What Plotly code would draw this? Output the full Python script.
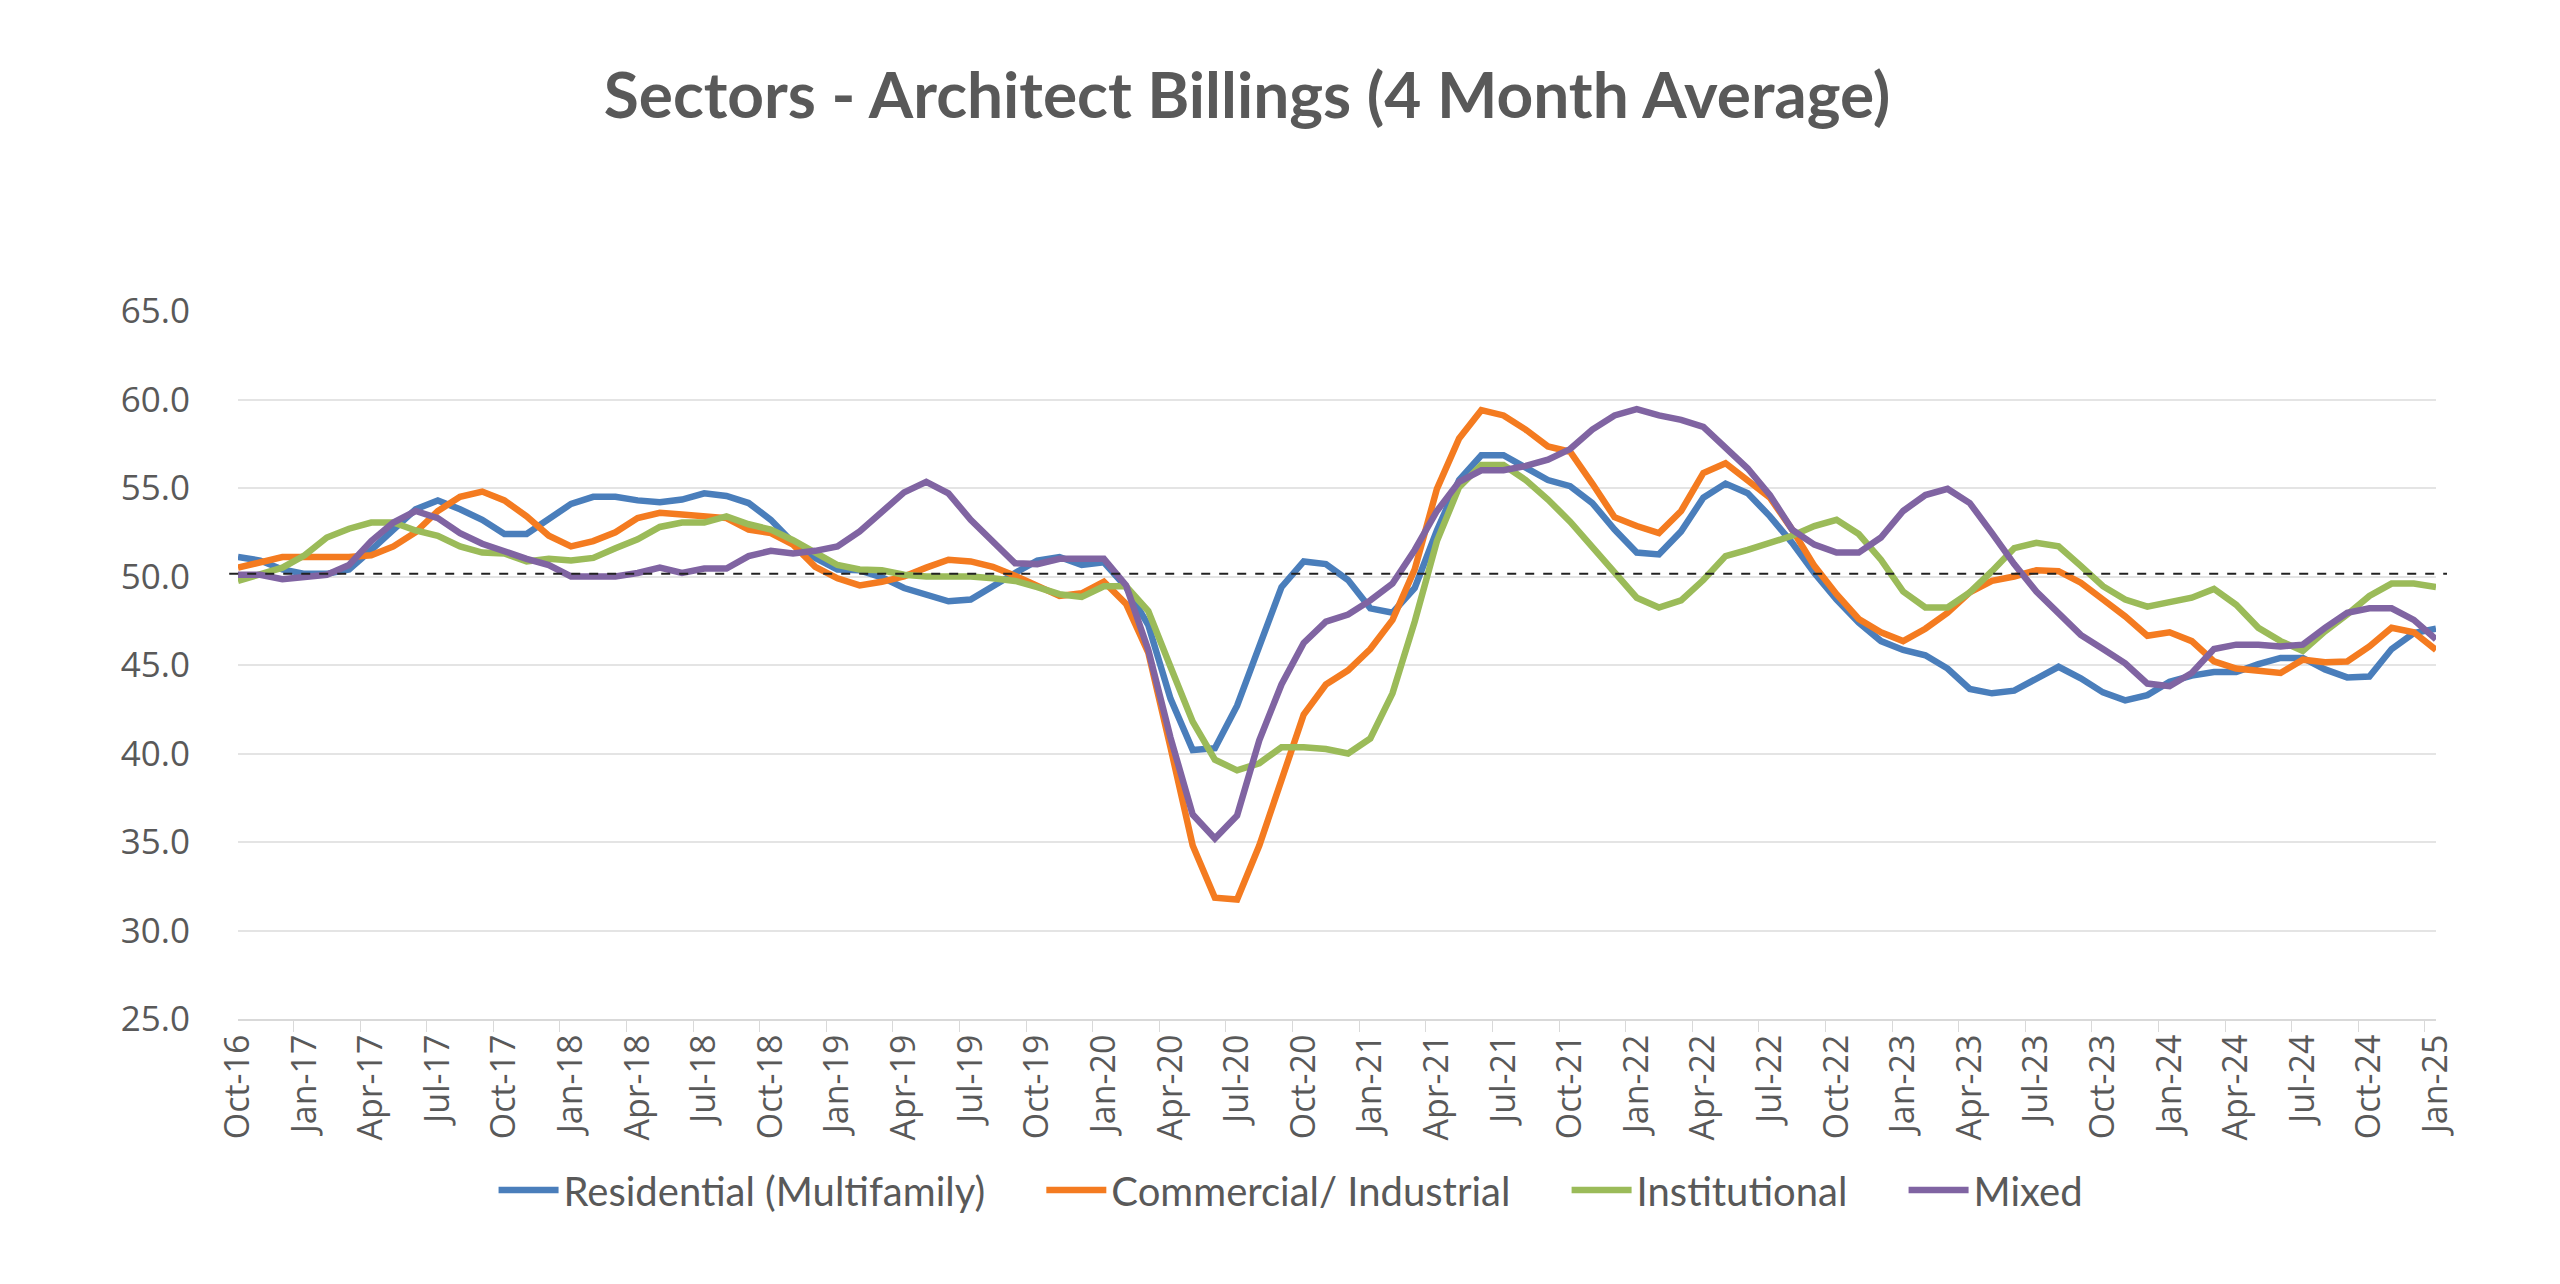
"""Sectors - Architect Billings (4 month average), monthly Oct-16 .. Jan-25."""
import pandas as pd
import plotly.graph_objects as go

_INK = "#595959"
_GRID = "#e4e4e4"

MONTHS = list(pd.date_range("2016-10-01", "2025-01-01", freq="MS").strftime("%b-%y"))

RESIDENTIAL = [
    51.1, 50.9, 50.4, 50.15, 50.15, 50.4, 51.5, 52.7, 53.8, 54.3,
    53.8, 53.2, 52.4, 52.4, 53.2, 54.1, 54.5, 54.5, 54.3, 54.2,
    54.35, 54.7, 54.55, 54.15, 53.2, 51.9, 51.05, 50.4, 50.35, 49.95,
    49.35, 48.95, 48.6, 48.7, 49.5, 50.2, 50.9, 51.1, 50.65, 50.8,
    49.4, 47.25, 43.1, 40.2, 40.3, 42.7, 46.05, 49.4, 50.85, 50.7,
    49.8, 48.2, 47.95, 49.35, 52.6, 55.45, 56.85, 56.85, 56.15, 55.45,
    55.1, 54.15, 52.65, 51.35, 51.25, 52.55, 54.45, 55.25, 54.7, 53.4,
    51.9, 50.2, 48.7, 47.4, 46.35, 45.85, 45.55, 44.8, 43.65, 43.4,
    43.55, 44.25, 44.9, 44.25, 43.45, 43.0, 43.3, 44.05, 44.4, 44.6,
    44.6, 45.05, 45.4, 45.4, 44.75, 44.3, 44.35, 45.9, 46.8, 47.05,
]
COMMERCIAL = [
    50.5, 50.8, 51.1, 51.1, 51.1, 51.1, 51.2, 51.7, 52.5, 53.7,
    54.5, 54.8, 54.3, 53.4, 52.3, 51.7, 52.0, 52.5, 53.3, 53.6,
    53.5, 53.4, 53.3, 52.65, 52.45, 51.8, 50.55, 49.9, 49.5, 49.7,
    50.0, 50.5, 50.95, 50.85, 50.55, 50.05, 49.45, 48.9, 49.05, 49.7,
    48.45, 45.7, 40.35, 34.8, 31.85, 31.75, 34.8, 38.55, 42.2, 43.9,
    44.7, 45.9, 47.55, 50.4, 54.95, 57.8, 59.4, 59.1, 58.3, 57.35,
    57.05, 55.25, 53.35, 52.85, 52.45, 53.7, 55.85, 56.4, 55.45, 54.45,
    52.65, 50.6, 49.0, 47.6, 46.85, 46.35, 47.05, 47.95, 49.1, 49.75,
    50.0, 50.35, 50.3, 49.65, 48.7, 47.75, 46.65, 46.85, 46.35, 45.2,
    44.8, 44.65, 44.55, 45.3, 45.15, 45.2, 46.05, 47.1, 46.85, 45.85,
]
INSTITUTIONAL = [
    49.75, 50.1, 50.5, 51.2, 52.2, 52.7, 53.05, 53.05, 52.6, 52.3,
    51.7, 51.35, 51.3, 50.85, 51.0, 50.9, 51.05, 51.6, 52.1, 52.8,
    53.05, 53.05, 53.4, 52.95, 52.65, 52.05, 51.3, 50.65, 50.4, 50.35,
    50.1, 50.0, 50.0, 50.0, 49.9, 49.75, 49.4, 49.0, 48.85, 49.45,
    49.45, 48.05, 44.9, 41.8, 39.65, 39.05, 39.45, 40.35, 40.35, 40.25,
    40.0, 40.85, 43.4, 47.45, 52.0, 55.05, 56.3, 56.3, 55.45, 54.35,
    53.1, 51.7, 50.2, 48.8, 48.25, 48.65, 49.8, 51.15, 51.5, 51.9,
    52.3, 52.85, 53.2, 52.4, 50.95, 49.15, 48.25, 48.25, 49.1, 50.3,
    51.6, 51.9, 51.7, 50.6, 49.45, 48.7, 48.3, 48.55, 48.8, 49.3,
    48.4, 47.1, 46.35, 45.8, 46.9, 47.85, 48.9, 49.6, 49.6, 49.4,
]
MIXED = [
    50.1, 50.1, 49.85, 49.95, 50.1, 50.65, 52.0, 53.05, 53.7, 53.3,
    52.45, 51.85, 51.4, 51.0, 50.65, 50.0, 50.0, 50.0, 50.2, 50.5,
    50.2, 50.45, 50.45, 51.15, 51.45, 51.3, 51.45, 51.7, 52.55, 53.7,
    54.75, 55.35, 54.7, 53.2, 52.0, 50.75, 50.7, 51.0, 51.0, 51.0,
    49.5, 45.85, 40.9, 36.55, 35.2, 36.5, 40.75, 43.9, 46.25, 47.45,
    47.85, 48.65, 49.6, 51.5, 53.7, 55.35, 56.0, 56.0, 56.25, 56.6,
    57.2, 58.3, 59.1, 59.45, 59.1, 58.85, 58.45, 57.25, 56.1, 54.6,
    52.65, 51.8, 51.35, 51.35, 52.2, 53.7, 54.6, 54.95, 54.15, 52.45,
    50.7, 49.15, 47.95, 46.7, 45.9, 45.1, 43.95, 43.8, 44.55, 45.9,
    46.15, 46.15, 46.05, 46.15, 47.1, 47.95, 48.2, 48.2, 47.55, 46.45,
]

# growth / contraction divide, drawn just above the 50 gridline as in the source
REFERENCE_LEVEL = 50.15

SERIES = [
    ("Residential (Multifamily)", RESIDENTIAL, "#4a7ebb"),
    ("Commercial/ Industrial", COMMERCIAL, "#f47b20"),
    ("Institutional", INSTITUTIONAL, "#9bbb59"),
    ("Mixed", MIXED, "#8064a2"),
]
_PAD = "\u00a0" * 5  # widen the gap between horizontal legend entries

fig = go.Figure()
for i, (name, values, color) in enumerate(SERIES):
    fig.add_trace(
        go.Scatter(
            x=MONTHS,
            y=values,
            name=name if i == len(SERIES) - 1 else name + _PAD,
            mode="lines",
            line={"color": color, "width": 6.5},
        )
    )

fig.add_shape(
    type="line",
    xref="paper",
    x0=-0.004,
    x1=1.005,
    yref="y",
    y0=REFERENCE_LEVEL,
    y1=REFERENCE_LEVEL,
    line={"color": "#222222", "width": 2, "dash": "dash"},
)

fig.update_layout(
    width=2560,
    height=1284,
    margin={"l": 230, "r": 132, "t": 303, "b": 273},
    paper_bgcolor="white",
    plot_bgcolor="white",
    font={"family": "Open Sans, sans-serif", "size": 34, "color": _INK},
    title={
        "text": "<b>Sectors - Architect Billings (4 Month Average)</b>",
        "font": {"family": "Lato, sans-serif", "size": 64, "color": _INK},
        "x": 0.484,
        "xanchor": "center",
        "xref": "container",
        "y": 0.932,
        "yanchor": "middle",
    },
    xaxis={
        "type": "category",
        "tickmode": "linear",
        "tick0": 0,
        "dtick": 3,
        "tickson": "boundaries",
        "tickangle": -90,
        "ticks": "outside",
        "ticklen": 11,
        "tickcolor": "#d9d9d9",
        "showgrid": False,
        "showline": True,
        "linecolor": "#d9d9d9",
        "linewidth": 2,
        "tickfont": {"size": 34},
    },
    yaxis={
        "range": [25, 65],
        "dtick": 5,
        "tickformat": ".1f",
        "gridcolor": _GRID,
        "gridwidth": 2,
        "zeroline": False,
        "showline": False,
        "ticks": "outside",
        "ticklen": 40,
        "tickcolor": "rgba(0,0,0,0)",
        "tickfont": {"size": 35},
    },
    legend={
        "orientation": "h",
        "x": 0.501,
        "xanchor": "center",
        "xref": "container",
        "y": 1 - 1182 / 1284,
        "yanchor": "middle",
        "yref": "container",
        "font": {"family": "Lato, sans-serif", "size": 40, "color": _INK},
        "itemwidth": 60,
    },
    showlegend=True,
)

fig.write_html("out.html")
